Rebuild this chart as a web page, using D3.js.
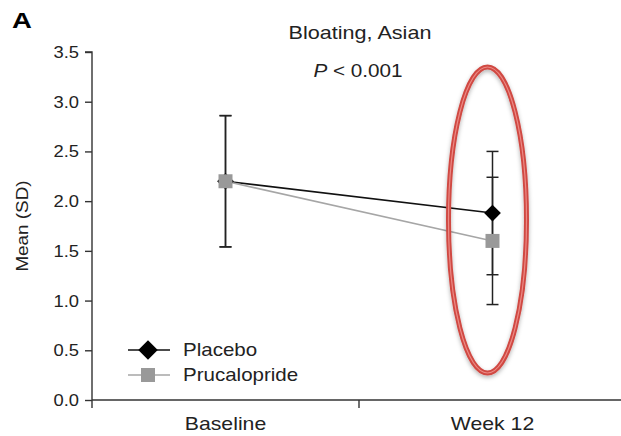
<!DOCTYPE html>
<html>
<head>
<meta charset="utf-8">
<script src="https://cdn.jsdelivr.net/npm/d3@7"></script>
<style>
  html, body { margin: 0; padding: 0; background: #fff; }
  svg { display: block; font-family: "Liberation Sans", Arial, sans-serif; }
</style>
</head>
<body>
<svg id="chart" width="621" height="436"></svg>
<script>
// Time points and tick labels
const timepoints = ["Baseline", "Week 12"];
const yTicks = [0, 0.5, 1.0, 1.5, 2.0, 2.5, 3.0, 3.5];

// Mean and SD per arm
const placeboMean = [2.2, 1.88];
const placeboSD = [0.66, 0.62];
const prucaloprideMean = [2.2, 1.60];
const prucaloprideSD = [0.66, 0.64];

const series = [
  { name: "Placebo", mean: placeboMean, sd: placeboSD, color: "#000", lineColor: "#111", shape: "diamond" },
  { name: "Prucalopride", mean: prucaloprideMean, sd: prucaloprideSD, color: "#999", lineColor: "#a6a6a6", shape: "square" }
];

const svg = d3.select("#chart");
const plotL = 92, plotR = 626, plotT = 52, plotB = 400;
const ink = "#222";
const wide = 1.17; // horizontal widening of the sans-serif face

const x = d3.scaleBand().domain(timepoints).range([plotL, plotR]).paddingInner(0).paddingOuter(0);
const y = d3.scaleLinear().domain([0, 3.5]).range([plotB, plotT]);

// Text placed at (tx, ty), widened along its baseline
function label(parent, tx, ty, str, size, opts = {}) {
  const g = parent.append("g")
    .attr("transform", `translate(${tx},${ty})` + (opts.rotate ? ` rotate(${opts.rotate})` : "") + ` scale(${opts.sx || wide},1)`);
  const t = g.append("text").attr("font-size", size).attr("fill", opts.fill || ink)
    .attr("text-anchor", opts.anchor || "start");
  if (opts.weight) t.attr("font-weight", opts.weight);
  if (str !== null) t.text(str);
  return t;
}

// Panel letter
label(svg, 12, 28, "A", 22, { weight: "bold", sx: 1.25, fill: "#000" });

// Title and p-value
label(svg, 360, 39, "Bloating, Asian", 18, { anchor: "middle", sx: 1.2 });
const p = label(svg, 358, 77, null, 18, { anchor: "middle", sx: 1.15 });
p.append("tspan").attr("font-style", "italic").text("P");
p.append("tspan").text(" < 0.001");

// Y axis
const tickSx = 1.08;
const yAxis = d3.axisLeft(y).tickValues(yTicks).tickFormat(d3.format(".1f")).tickSize(7).tickPadding(6);
const gy = svg.append("g").attr("transform", `translate(${plotL},0)`).call(yAxis);
gy.select(".domain").attr("d", `M-7,${plotT}H0V${plotB + 8}`);
gy.selectAll("line").attr("stroke", "#333").attr("stroke-width", 1.4);
gy.select(".domain").attr("stroke", "#333").attr("stroke-width", 1.4);
gy.selectAll(".tick text").attr("font-size", 17).attr("fill", ink)
  .attr("font-family", "'Liberation Sans', Arial, sans-serif")
  .attr("x", -13 / tickSx).attr("transform", `scale(${tickSx},1)`);

// Y axis title
label(svg, 28, (plotT + plotB) / 2, "Mean (SD)", 16, { anchor: "middle", rotate: -90, sx: 1.18 });

// X axis with ticks at band boundaries
const gx = svg.append("g").attr("transform", `translate(0,${plotB})`);
gx.append("path").attr("d", `M${plotL},0H${plotR}`).attr("stroke", "#333").attr("stroke-width", 1.4).attr("fill", "none");
const bounds = [x(timepoints[1])];
gx.selectAll(".bt").data(bounds).join("line").attr("class", "bt")
  .attr("x1", d => d).attr("x2", d => d).attr("y1", 0).attr("y2", 8)
  .attr("stroke", "#333").attr("stroke-width", 1.4);
timepoints.forEach(d => label(gx, x(d) + x.bandwidth() / 2, 30, d, 18, { anchor: "middle", sx: 1.18 }));

const cx = d => x(d) + x.bandwidth() / 2;
const capW = 6;

// Error bars
series.forEach(s => {
  const g = svg.append("g");
  timepoints.forEach((t, i) => {
    const hi = y(s.mean[i] + s.sd[i]), lo = y(s.mean[i] - s.sd[i]);
    g.append("line").attr("x1", cx(t)).attr("x2", cx(t)).attr("y1", hi).attr("y2", lo)
      .attr("stroke", ink).attr("stroke-width", 1.5);
    [hi, lo].forEach(v => g.append("line").attr("x1", cx(t) - capW).attr("x2", cx(t) + capW)
      .attr("y1", v).attr("y2", v).attr("stroke", ink).attr("stroke-width", 1.5));
  });
});

// Lines and markers
const line = d3.line().x(d => cx(d.t)).y(d => y(d.v));
const diamond = d3.symbol().type(d3.symbolSquare).size(140);
const square = d3.symbol().type(d3.symbolSquare).size(196);
const diamondKey = d3.symbol().type(d3.symbolSquare).size(190);

series.forEach(s => {
  const pts = timepoints.map((t, i) => ({ t, v: s.mean[i] }));
  svg.append("path").datum(pts).attr("d", line).attr("fill", "none")
    .attr("stroke", s.lineColor).attr("stroke-width", 1.6);
});
series.forEach(s => {
  const pts = timepoints.map((t, i) => ({ t, v: s.mean[i] }));
  svg.selectAll(null).data(pts).join("path")
    .attr("d", s.shape === "diamond" ? diamond : square)
    .attr("transform", d => `translate(${cx(d.t)},${y(d.v)})` + (s.shape === "diamond" ? " rotate(45)" : ""))
    .attr("fill", s.color);
});

// Legend
const legend = svg.append("g").attr("transform", "translate(128,350)");
series.forEach((s, i) => {
  const g = legend.append("g").attr("transform", `translate(0,${i * 25})`);
  g.append("line").attr("x1", 0).attr("x2", 42).attr("stroke", s.lineColor).attr("stroke-width", 1.6);
  g.append("path").attr("d", s.shape === "diamond" ? diamondKey : square)
    .attr("transform", `translate(20,0)` + (s.shape === "diamond" ? " rotate(45)" : "")).attr("fill", s.color);
  label(g, 55, 6, s.name, 18, { sx: 1.14 });
});

// Highlight ellipse around the week 12 results
const defs = svg.append("defs");
const f = defs.append("filter").attr("id", "shadow").attr("x", "-30%").attr("y", "-10%").attr("width", "160%").attr("height", "120%");
f.append("feDropShadow").attr("dx", 0).attr("dy", 2).attr("stdDeviation", 2).attr("flood-color", "#000").attr("flood-opacity", 0.3);
const ex = cx("Week 12") - 5, ey = 220;
svg.append("ellipse").attr("cx", ex).attr("cy", ey).attr("rx", 39).attr("ry", 153)
  .attr("fill", "none").attr("stroke", "#d04843").attr("stroke-width", 5).attr("filter", "url(#shadow)");
svg.append("ellipse").attr("cx", ex).attr("cy", ey).attr("rx", 39).attr("ry", 153)
  .attr("fill", "none").attr("stroke", "#ec8a86").attr("stroke-width", 1.2);
</script>
</body>
</html>
